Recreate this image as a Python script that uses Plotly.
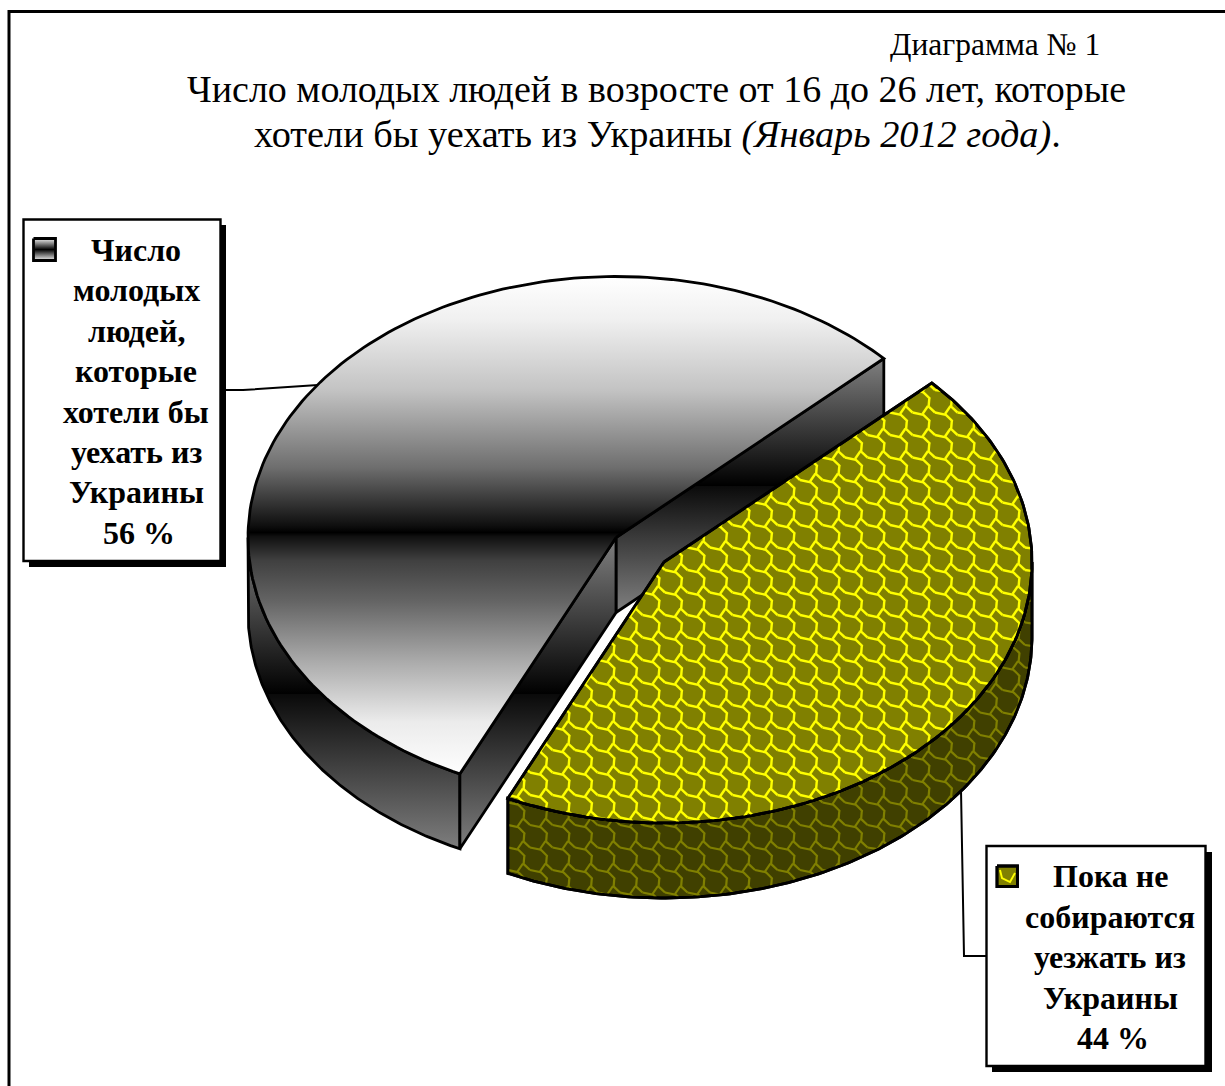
import numpy as np
import plotly.graph_objects as go

# --- data ---
slice_names = ["Число молодых людей, которые хотели бы уехать из Украины", "Пока не собираются уезжать из Украины"]
slice_values = [56, 44]
chart_number = "Диаграмма № 1"
title_lines = ["Число молодых людей в возросте от 16 до 26 лет, которые",
               "хотели бы уехать из Украины <i>(Январь 2012 года)</i>."]
legend_lines_a = ["Число", "молодых", "людей,", "которые", "хотели бы", "уехать из", "Украины", "56 %"]
legend_lines_b = ["Пока не", "собираются", "уезжать из", "Украины", "44 %"]

# --- styling / projection ---
W, H = 1225, 1086
A, B, DEPTH = 368, 261, 75
ROTATION = 46.7                       # clockwise from 12 o'clock, start of the second slice
C_GREY = (616, 537.5)
C_OLIVE = (664, 562)
FONT = "Liberation Serif"
TOP_STOPS = [(0, 255), (.086, 240), (.227, 195), (.382, 110), (.498, 15), (.512, 0), (.52, 16),
             (.568, 64), (.649, 100), (.769, 170), (.89, 235), (1, 255)]
TOP_SCALE = [[p, f"rgb({g},{g},{g})"] for p, g in TOP_STOPS]
WALL_SCALE = [[0, "#808080"], [0.5, "#000000"], [0.5, "#0a0a0a"], [1, "#808080"]]
KEY_SCALE = [[0, "#e8e8e8"], [0.5, "#000000"], [1, "#e8e8e8"]]
LW = 2.8
PERIOD = 22.5
WAVE = np.array([(0, 0), (10, 1.5), (17, 8), (15.5, 16), (22.5, 22.5)])
LINK = np.array([(15.5, 16), (10, 24)])

total = sum(slice_values)
sweep_olive = 360 * slice_values[1] / total
sweep_grey = 360 * slice_values[0] / total
olive_a0, olive_a1 = ROTATION, ROTATION + sweep_olive
grey_a0, grey_a1 = olive_a1, olive_a1 + sweep_grey


def arc(c, a0, a1, dy=0, n=160):
    t = np.radians(np.linspace(a0, a1, n))
    return c[0] + A * np.sin(t), c[1] - B * np.cos(t) + dy


def top_face(c, a0, a1):
    x, y = arc(c, a0, a1)
    return np.r_[c[0], x, c[0]], np.r_[c[1], y, c[1]]


def outer_wall(c, a0, a1):
    x, y = arc(c, a0, a1)
    xb, yb = arc(c, a1, a0, DEPTH)
    return np.r_[x, xb, x[0]], np.r_[y, yb, y[0]]


def cut_face(c, a):
    x, y = arc(c, a, a, n=1)
    return (np.r_[c[0], x[0], x[0], c[0], c[0]],
            np.r_[c[1], y[0], y[0] + DEPTH, c[1] + DEPTH, c[1]])


def grad(scale, y0, y1):
    return dict(type="vertical", colorscale=scale, start=y0, stop=y1)


def inside(px, py, poly):
    vx, vy = poly
    res = np.zeros(px.shape, bool)
    for i in range(len(vx) - 1):
        x0, y0, x1, y1 = vx[i], vy[i], vx[i + 1], vy[i + 1]
        if y0 == y1:
            continue
        cond = (y0 > py) != (y1 > py)
        xc = (x1 - x0) * (py - y0) / (y1 - y0) + x0
        res ^= cond & (px < xc)
    return res


def lattice(poly, anchor):
    """Woven texture of the olive slice, clipped to the outline poly."""
    xs, ys = [], []
    x0, x1, y0, y1 = poly[0].min(), poly[0].max(), poly[1].min(), poly[1].max()
    i0 = int((x0 - anchor[0]) // PERIOD) - 1
    i1 = int((x1 - anchor[0]) // PERIOD) + 1
    j0 = int((y0 - anchor[1]) // PERIOD) - 1
    j1 = int((y1 - anchor[1]) // PERIOD) + 1
    for i in range(i0, i1 + 1):
        for j in range(j0, j1 + 1):
            ox, oy = anchor[0] + i * PERIOD, anchor[1] + j * PERIOD
            for seg in (WAVE, LINK):
                d = np.r_[0, np.cumsum(np.hypot(*np.diff(seg, axis=0).T))]
                s = np.linspace(0, d[-1], max(int(d[-1] / 1.2), 2))
                px = np.interp(s, d, seg[:, 0]) + ox
                py = np.interp(s, d, seg[:, 1]) + oy
                m = inside(px, py, poly)
                xs += list(np.where(m, px, np.nan)) + [np.nan]
                ys += list(np.where(m, py, np.nan)) + [np.nan]
    return xs, ys


fig = go.Figure()


def add(xy, **kw):
    kw.setdefault("line", dict(color="black", width=LW))
    fig.add_trace(go.Scatter(x=xy[0], y=xy[1], mode="lines", hoverinfo="skip",
                             showlegend=False, **kw))


def solid(xy, **kw):
    add(xy, fill="toself", **kw)


# grey slice
wall_stop = C_GREY[1] + 2 * 157
solid(outer_wall(C_GREY, grey_a0, 270), fillgradient=grad(WALL_SCALE, C_GREY[1], wall_stop))
xr, yr = arc(C_GREY, grey_a1, grey_a1, n=1)
solid(cut_face(C_GREY, grey_a1), fillgradient=grad(WALL_SCALE, yr[0], C_GREY[1] + DEPTH))
solid(cut_face(C_GREY, grey_a0), fillgradient=grad(WALL_SCALE, C_GREY[1], wall_stop))
solid(top_face(C_GREY, grey_a0, grey_a1), fillgradient=grad(TOP_SCALE, C_GREY[1] - B, C_GREY[1] + B - 22))

# olive slice
wall_poly = outer_wall(C_OLIVE, 90, olive_a1)
top_poly = top_face(C_OLIVE, olive_a0, olive_a1)
solid(wall_poly, fillcolor="#404000")
add(lattice(wall_poly, (800, 570 + DEPTH)), line=dict(color="#808000", width=2.2))
add(wall_poly)
solid(top_poly, fillcolor="#808000")
add(lattice(top_poly, (800, 570)), line=dict(color="#ffff00", width=2.4))
add(top_poly)

# legend swatches
solid(([33.5, 55.5, 55.5, 33.5, 33.5], [238.5, 238.5, 260.5, 260.5, 238.5]),
      fillgradient=grad(KEY_SCALE, 239, 260))
key_b = ([997, 1017.5, 1017.5, 997, 997], [866, 866, 886.5, 886.5, 866])
solid(key_b, fillcolor="#808000")
add(([1000, 1002, 1010, 1015], [870, 878, 882, 873]), line=dict(color="#ffff00", width=1.9))
add(key_b)

shapes = [
    dict(type="rect", x0=9, y0=11.5, x1=W + 20, y1=H + 20, line=dict(color="black", width=3)),
    dict(type="path", path="M 222 390 L 243 390 L 318 385", line=dict(color="black", width=2)),
    dict(type="path", path="M 961 790 L 964 956 L 986 956", line=dict(color="black", width=2)),
    dict(type="rect", x0=29, y0=225, x1=226, y1=567, fillcolor="black", line=dict(width=0)),
    dict(type="rect", x0=23.5, y0=219.5, x1=220.5, y1=561, fillcolor="white", line=dict(color="black", width=2.4)),
    dict(type="rect", x0=992, y0=852, x1=1212, y1=1072, fillcolor="black", line=dict(width=0)),
    dict(type="rect", x0=986.5, y0=846, x1=1205.5, y1=1066, fillcolor="white", line=dict(color="black", width=2.4)),
]
for s in shapes:
    s.update(xref="x", yref="y", layer="below")

annotations = []


def label(text, x, y, size, bold=False):
    annotations.append(dict(text=f"<b>{text}</b>" if bold else text, x=x, y=y, xref="x", yref="y",
                            showarrow=False, xanchor="center", yanchor="middle",
                            font=dict(family=FONT, size=size, color="black")))


label(chart_number, 995, 44, 31.5)
label(title_lines[0], 656, 89, 38)
label(title_lines[1], 657, 134, 38.3)
for i, t in enumerate(legend_lines_a):
    label(t, 139 if i == 7 else 136, 250 + i * 40.4, 32, True)
for i, t in enumerate(legend_lines_b):
    label(t, 1113 if i == 4 else 1110, 876 + i * 40.6, 32, True)

fig.update_layout(
    width=W, height=H, margin=dict(l=0, r=0, t=0, b=0),
    paper_bgcolor="white", plot_bgcolor="white", showlegend=False,
    xaxis=dict(range=[0, W], visible=False, fixedrange=True),
    yaxis=dict(range=[H, 0], visible=False, fixedrange=True),
    shapes=shapes, annotations=annotations,
)
fig.write_html("out.html", config=dict(displayModeBar=False),
               post_script="document.body.style.margin='0';document.body.style.overflow='hidden';")
